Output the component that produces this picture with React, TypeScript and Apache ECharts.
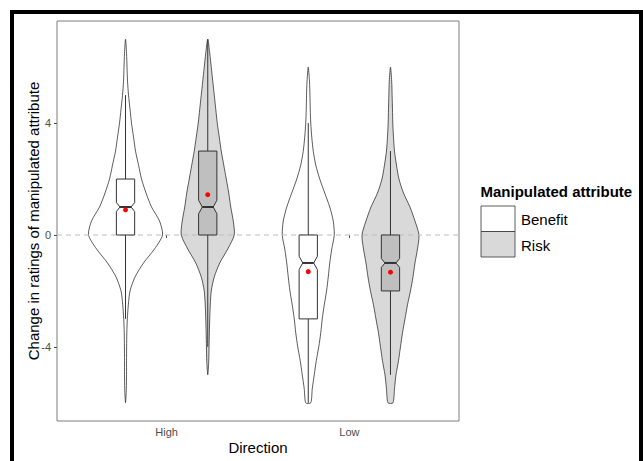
import React, { useEffect, useRef } from "react";
import * as echarts from "echarts";

// ---- data ----
const directions = ["High", "Low"];
const attributes = ["Benefit", "Risk"];
const yTicks = [-4, 0, 4];

// density levels (y values) at which violin half-widths were read
const yLevels = [-6, -5.5, -5, -4.5, -4, -3.5, -3, -2.5, -2, -1.5, -1, -0.5, 0, 0.5, 1, 1.5, 2, 2.5, 3, 3.5, 4, 4.5, 5, 5.5, 6, 6.5, 7];

// violin half-widths (x-axis units), null = outside data range
const violinHighBenefit = [0, 0.0044, 0.0055, 0.0055, 0.006, 0.0071, 0.0099, 0.0153, 0.0246, 0.052, 0.0985, 0.1587, 0.2025, 0.1861, 0.1423, 0.1122, 0.0876, 0.0712, 0.0547, 0.0438, 0.0328, 0.0246, 0.0164, 0.0109, 0.0082, 0.0055, 0];
const violinHighRisk = [null, null, 0, 0.0055, 0.0071, 0.0088, 0.0109, 0.0137, 0.0192, 0.0356, 0.0657, 0.1095, 0.145, 0.1396, 0.1259, 0.1149, 0.1013, 0.0876, 0.0739, 0.0629, 0.052, 0.0438, 0.0356, 0.0274, 0.0192, 0.0109, 0];
const violinLowBenefit = [0.0137, 0.0219, 0.0328, 0.0438, 0.0575, 0.0684, 0.0766, 0.0876, 0.1002, 0.1095, 0.1177, 0.1286, 0.1423, 0.1368, 0.1177, 0.0903, 0.0629, 0.0411, 0.0274, 0.0192, 0.0137, 0.0109, 0.0093, 0.0066, 0, null, null];
const violinLowRisk = [0.0137, 0.0219, 0.0301, 0.0438, 0.0547, 0.0657, 0.0794, 0.093, 0.1095, 0.1232, 0.1341, 0.1478, 0.156, 0.1341, 0.1067, 0.0712, 0.0465, 0.0328, 0.0219, 0.0164, 0.0126, 0.0109, 0.0088, 0.0066, 0, null, null];

// box statistics per [High, Low]: [lowerWhisker, q1, median, q3, upperWhisker, notchHalf]
const boxBenefit = [
  [-3, 0, 1, 2, 5, 0.16],
  [-6, -3, -1, 0, 4, 0.24],
];
const boxRisk = [
  [-4, 0, 1, 3, 7, 0.24],
  [-5, -2, -1, 0, 3, 0.16],
];
const meanBenefit = [0.9, -1.31];
const meanRisk = [1.44, -1.33];

// ---- styles ----
const FONT = "Liberation Sans, Arial, Helvetica, sans-serif";
const violinFill = { Benefit: "#ffffff", Risk: "#d9d9d9" };
const boxFill = { Benefit: "#ffffff", Risk: "#bfbfbf" };
const DODGE = 0.225;
const BOX_HALF = 0.05;
const NOTCH_WIDTH = 0.6;
const STROKE = "#333333";

function violinSeries(name: string, widths: (number | null)[][]) {
  return {
    type: "custom",
    name,
    z: 2,
    silent: true,
    data: directions.map((_, i) => [i + 1 + (name === "Benefit" ? -DODGE : DODGE)]),
    renderItem: (params: any, api: any) => {
      const w = widths[params.dataIndex];
      const c = api.value(0);
      const left: number[][] = [];
      const right: number[][] = [];
      yLevels.forEach((y, k) => {
        const hw = w[k];
        if (hw == null) return;
        left.push(api.coord([c - hw, y]));
        if (hw > 0) right.unshift(api.coord([c + hw, y]));
      });
      const pts = left.concat(right);
      return {
        type: "polygon",
        shape: { points: pts, smooth: 0.25 },
        style: { fill: (violinFill as any)[name], stroke: STROKE, lineWidth: 0.8 },
      };
    },
  };
}

function boxSeries(name: string, stats: number[][]) {
  return {
    type: "custom",
    name,
    z: 4,
    silent: true,
    data: directions.map((_, i) => [i + 1 + (name === "Benefit" ? -DODGE : DODGE)]),
    renderItem: (params: any, api: any) => {
      const [wl, q1, med, q3, wh, n] = stats[params.dataIndex];
      const c = api.value(0);
      const x0 = c - BOX_HALF;
      const x1 = c + BOX_HALF;
      const ind = BOX_HALF * (1 - NOTCH_WIDTH);
      const P = (x: number, y: number) => api.coord([x, y]);
      const poly = [
        P(x0, q3), P(x1, q3), P(x1, med + n), P(x1 - ind, med), P(x1, med - n),
        P(x1, q1), P(x0, q1), P(x0, med - n), P(x0 + ind, med), P(x0, med + n),
      ];
      const top = P(c, q3), whTop = P(c, wh), bot = P(c, q1), whBot = P(c, wl);
      const mL = P(x0 + ind, med), mR = P(x1 - ind, med);
      return {
        type: "group",
        children: [
          { type: "line", shape: { x1: top[0], y1: top[1], x2: whTop[0], y2: whTop[1] }, style: { stroke: STROKE, lineWidth: 1 } },
          { type: "line", shape: { x1: bot[0], y1: bot[1], x2: whBot[0], y2: whBot[1] }, style: { stroke: STROKE, lineWidth: 1 } },
          { type: "polygon", shape: { points: poly }, style: { fill: (boxFill as any)[name], stroke: STROKE, lineWidth: 1 } },
          { type: "line", shape: { x1: mL[0], y1: mL[1], x2: mR[0], y2: mR[1] }, style: { stroke: STROKE, lineWidth: 2 } },
        ],
      };
    },
  };
}

export default function App() {
  const ref = useRef<HTMLDivElement>(null);
  useEffect(() => {
    if (!ref.current) return;
    const chart = echarts.init(ref.current, undefined, { renderer: "svg" });
    const option: any = {
      animation: false,
      backgroundColor: "#ffffff",
      textStyle: { fontFamily: FONT },
      grid: { left: 57, top: 21, width: 402, height: 400, show: true, borderColor: "#7f7f7f", borderWidth: 1, backgroundColor: "transparent" },
      xAxis: {
        type: "value",
        min: 0.4,
        max: 2.6,
        axisLine: { show: false },
        splitLine: { show: false },
        axisTick: { show: true, length: 3, customValues: [1, 2], lineStyle: { color: "#4d4d4d" } },
        axisLabel: {
          customValues: [1, 2],
          formatter: (v: number) => directions[Math.round(v) - 1] ?? "",
          color: "#4d4d4d",
          fontSize: 11,
          margin: 5,
          fontFamily: FONT,
        },
      },
      yAxis: {
        type: "value",
        min: -6.65,
        max: 7.65,
        axisLine: { show: false },
        splitLine: { show: false },
        axisTick: { show: true, length: 3, customValues: yTicks, lineStyle: { color: "#4d4d4d" } },
        axisLabel: { customValues: yTicks, color: "#4d4d4d", fontSize: 11, margin: 6, fontFamily: FONT },
      },
      series: [
        violinSeries("Benefit", [violinHighBenefit, violinLowBenefit]),
        violinSeries("Risk", [violinHighRisk, violinLowRisk]),
        {
          type: "line",
          z: 3,
          silent: true,
          symbol: "none",
          data: [[0.4, 0], [2.6, 0]],
          lineStyle: { color: "#bdbdbd", width: 1.2, type: [5, 4] },
        },
        boxSeries("Benefit", boxBenefit),
        boxSeries("Risk", boxRisk),
        {
          type: "scatter",
          z: 5,
          silent: true,
          symbolSize: 5,
          itemStyle: { color: "#ff0000", opacity: 1 },
          data: directions.flatMap((_, i) => [
            [i + 1 - DODGE, meanBenefit[i]],
            [i + 1 + DODGE, meanRisk[i]],
          ]),
        },
      ],
      graphic: [
        { type: "rect", shape: { x: 10, y: 10, width: 4, height: 451 }, style: { fill: "#000" } },
        { type: "rect", shape: { x: 10, y: 10, width: 633, height: 4 }, style: { fill: "#000" } },
        { type: "rect", shape: { x: 639, y: 10, width: 4, height: 451 }, style: { fill: "#000" } },
        { type: "text", x: 258, y: 447, style: { text: "Direction", fontSize: 15, fontFamily: FONT, fill: "#000", align: "center", verticalAlign: "middle" } },
        { type: "text", x: 33, y: 221, rotation: Math.PI / 2, style: { text: "Change in ratings of manipulated attribute", fontSize: 15, fontFamily: FONT, fill: "#000", align: "center", verticalAlign: "middle" } },
        { type: "text", x: 480.5, y: 191, style: { text: "Manipulated attribute", fontSize: 15, fontWeight: "bold", fontFamily: FONT, fill: "#000", align: "left", verticalAlign: "middle" } },
        { type: "rect", shape: { x: 481, y: 206, width: 34, height: 25.5 }, style: { fill: violinFill.Benefit, stroke: STROKE, lineWidth: 0.8 } },
        { type: "rect", shape: { x: 481, y: 231.5, width: 34, height: 25.5 }, style: { fill: violinFill.Risk, stroke: STROKE, lineWidth: 0.8 } },
        { type: "text", x: 521, y: 219, style: { text: attributes[0], fontSize: 15, fontFamily: FONT, fill: "#000", align: "left", verticalAlign: "middle" } },
        { type: "text", x: 521, y: 245, style: { text: attributes[1], fontSize: 15, fontFamily: FONT, fill: "#000", align: "left", verticalAlign: "middle" } },
      ],
    };
    chart.setOption(option);
    return () => chart.dispose();
  }, []);
  return <div ref={ref} style={{ position: "absolute", left: 0, top: 0, width: 643, height: 461 }} />;
}
